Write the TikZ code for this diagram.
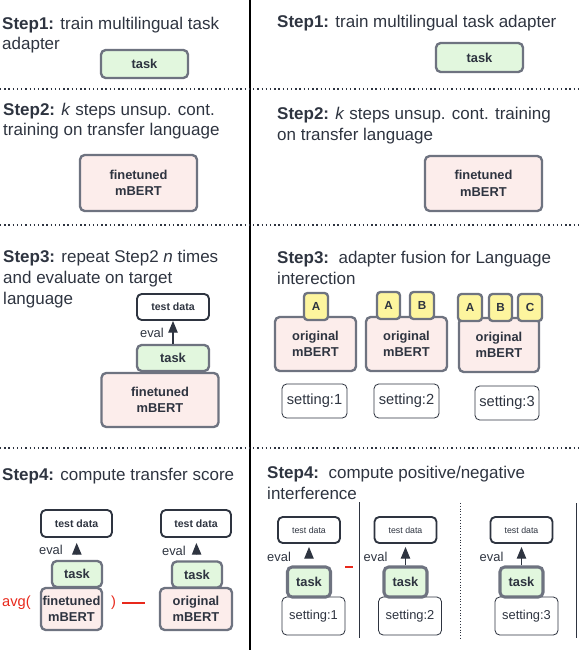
\documentclass[tikz,border=0pt]{standalone}
\usepackage{fontspec}
\setmainfont{Liberation Sans}
\usetikzlibrary{arrows.meta}

\definecolor{ink}{HTML}{2E3440}
\definecolor{edge}{HTML}{6E7380}
\definecolor{greenfill}{HTML}{E2F7DE}
\definecolor{pinkfill}{HTML}{FCEDEB}
\definecolor{yellowfill}{HTML}{FDF59E}
\definecolor{avgred}{HTML}{E8291C}

\newlength\pxunit
\setlength\pxunit{0.03cm}

\tikzset{
  head/.style={anchor=base west, align=left, inner sep=0, text=ink,
    font=\fontsize{14.5}{17.9}\selectfont},
  dim/.style 2 args={minimum width=#1\pxunit, minimum height=#2\pxunit},
  taskbox/.style={draw=edge, line width=2pt, fill=greenfill, rounded corners=4pt,
    inner sep=0, text=ink, font=\bfseries\fontsize{11}{13}\selectfont},
  bertbox/.style={draw=edge, line width=2pt, fill=pinkfill, rounded corners=4pt,
    inner sep=0, align=center, text=ink, font=\bfseries\fontsize{11}{14}\selectfont},
  adbox/.style={draw=edge, line width=2pt, fill=yellowfill, rounded corners=3pt,
    inner sep=0, text=ink, font=\bfseries\fontsize{10}{12}\selectfont},
  testbox/.style={draw=ink, line width=1.6pt, fill=white, rounded corners=4pt,
    inner sep=0, text=ink, font=\bfseries\fontsize{9}{11}\selectfont},
  setbox/.style={draw=ink, line width=0.7pt, fill=white, rounded corners=4pt,
    inner sep=0, text=ink, font=\fontsize{12.5}{15}\selectfont},
  evaltxt/.style={inner sep=0, text=ink, font=\fontsize{11}{13}\selectfont},
  evalarrow/.style={draw=ink, line width=1pt, -{Triangle[width=8pt,length=10pt]}},
  sep/.style={draw=ink, line width=1.2pt, dash pattern=on 1.2pt off 2.4pt},
}

\begin{document}
\begin{tikzpicture}[x=0.03cm, y=-0.03cm]
  \useasboundingbox (0,0) rectangle (580,650);

  % separators
  \draw[line width=1.6pt] (250,0) -- (250,650);
  \draw[sep] (0,89) -- (580,89);
  \draw[sep] (0,225) -- (580,225);
  \draw[sep] (0,448) -- (580,448);

  % ---- step 1 (multi-line heads sit on their last baseline)
  \node[head] (h1l) at (2,50) {\textbf{Step1:} train multilingual task\\adapter};
  \node[taskbox, dim={87}{28}] (task1l) at (144.5,64) {task};
  \node[head] (h1r) at (277,28) {\textbf{Step1:} train multilingual task adapter};
  \node[taskbox, dim={87}{29}] (task1r) at (479.5,57.5) {task};

  % ---- step 2
  \node[head] (h2l) at (3,136) {\textbf{Step2:} \textit{k} steps unsup. cont.\\training on transfer language};
  \node[bertbox, dim={117}{56}] (bert2l) at (138.5,183) {finetuned\\mBERT};
  \node[head] (h2r) at (277,140) {\textbf{Step2:} \textit{k} steps unsup. cont. training\\on transfer language};
  \node[bertbox, dim={117}{55}] (bert2r) at (483.5,183.5) {finetuned\\mBERT};

  % ---- step 3, left
  \node[head] (h3l) at (3,304) {\textbf{Step3:} repeat Step2 \textit{n} times\\and evaluate on target\\language};
  \node[testbox, dim={72}{26}] (test3l) at (173,307) {test data};
  \node[bertbox, dim={117}{54}] (bert3l) at (160,400) {finetuned\\mBERT};
  \node[taskbox, dim={72}{26}] (task3l) at (173,358) {task};
  \node[evaltxt, anchor=east] (eval3l) at (164,333) {eval};
  \draw[evalarrow] (task3l) -- (test3l);

  % ---- step 3, right
  \node[head] (h3r) at (277,284) {\textbf{Step3:}\ \ adapter fusion for Language\\interection};
  \node[bertbox, dim={81}{54}] (bert3a) at (315.5,344) {original\\mBERT};
  \node[bertbox, dim={81}{54}] (bert3b) at (406.5,344) {original\\mBERT};
  \node[bertbox, dim={80}{54}] (bert3c) at (499,345) {original\\mBERT};
  \node[adbox, dim={24}{27}] (a1) at (316,306.5) {A};
  \node[adbox, dim={23}{27}] (a2) at (388.5,305.5) {A};
  \node[adbox, dim={24}{27}] (b2) at (422,305.5) {B};
  \node[adbox, dim={24}{27}] (a3) at (470,307.5) {A};
  \node[adbox, dim={23}{27}] (b3) at (500.5,307.5) {B};
  \node[adbox, dim={24}{27}] (c3) at (530,307.5) {C};
  \node[setbox, dim={65}{34}] (set3a) at (314.5,401) {setting:1};
  \node[setbox, dim={65}{34}] (set3b) at (406.5,401) {setting:2};
  \node[setbox, dim={64}{34}] (set3c) at (507,403) {setting:3};

  % ---- step 4, left
  \node[head] (h4l) at (2,480) {\textbf{Step4:} compute transfer score};
  \node[testbox, dim={71}{27}] (test4a) at (76.5,523.5) {test data};
  \node[bertbox, dim={61}{42}] (bert4a) at (71.5,609) {finetuned\\mBERT};
  \node[taskbox, dim={50}{26}] (task4a) at (77,574) {task};
  \node[evaltxt, anchor=east] (eval4a) at (63,550) {eval};
  \draw[evalarrow, shorten <=9\pxunit, shorten >=5\pxunit] (task4a) -- (test4a);
  \node[inner sep=0, text=avgred, font=\fontsize{12.5}{15}\selectfont, anchor=west] (avg) at (2,603) {avg(};
  \node[inner sep=0, text=avgred, font=\fontsize{12.5}{15}\selectfont, anchor=west] (rpar) at (111,603) {)};
  \draw[avgred, line width=1.2pt] (122,603) -- (145,603);
  \node[testbox, dim={70}{27}] (test4b) at (196,523.5) {test data};
  \node[bertbox, dim={72}{42}] (bert4b) at (196,609) {original\\mBERT};
  \node[taskbox, dim={50}{26}] (task4b) at (197,574.5) {task};
  \node[evaltxt, anchor=east] (eval4b) at (186,551) {eval};
  \draw[evalarrow, shorten <=9\pxunit, shorten >=5\pxunit] (task4b) -- (test4b);

  % ---- step 4, right
  \node[head] (h4r) at (267,499) {\textbf{Step4:}\ \ compute positive/negative\\interference};
  \draw[ink, line width=0.8pt] (359,502) -- (359,638);
  \draw[ink, line width=0.8pt, dash pattern=on 0.8pt off 1.6pt] (460,503) -- (460,638);
  \draw[ink, line width=0.8pt] (576,503) -- (576,638);
  \draw[avgred, line width=1.2pt] (345,567) -- (353,567);
  \foreach \i/\cx/\sx in {1/309/313.5, 2/405.5/410, 3/521.5/526.5} {
    \node[testbox, dim={62}{26}, font=\fontsize{7.5}{9}\selectfont] (test4r\i) at (\cx,530) {test data};
    \node[setbox, dim={63}{38}, font=\fontsize{11}{13}\selectfont] (set4r\i) at (\sx,616) {setting:\i};
    \node[taskbox, dim={43}{30}, line width=2.6pt] (task4r\i) at (\cx,582) {task};
    \node[evaltxt, anchor=west] (eval4r\i) at (\cx-42,557) {eval};
  }
  \draw[evalarrow, shorten <=9\pxunit, shorten >=3\pxunit] (task4r1) -- (test4r1);
  \draw[evalarrow, shorten >=3\pxunit] (task4r2) -- (test4r2);
  \draw[evalarrow, shorten >=3\pxunit] (task4r3) -- (test4r3);
\end{tikzpicture}
\end{document}
